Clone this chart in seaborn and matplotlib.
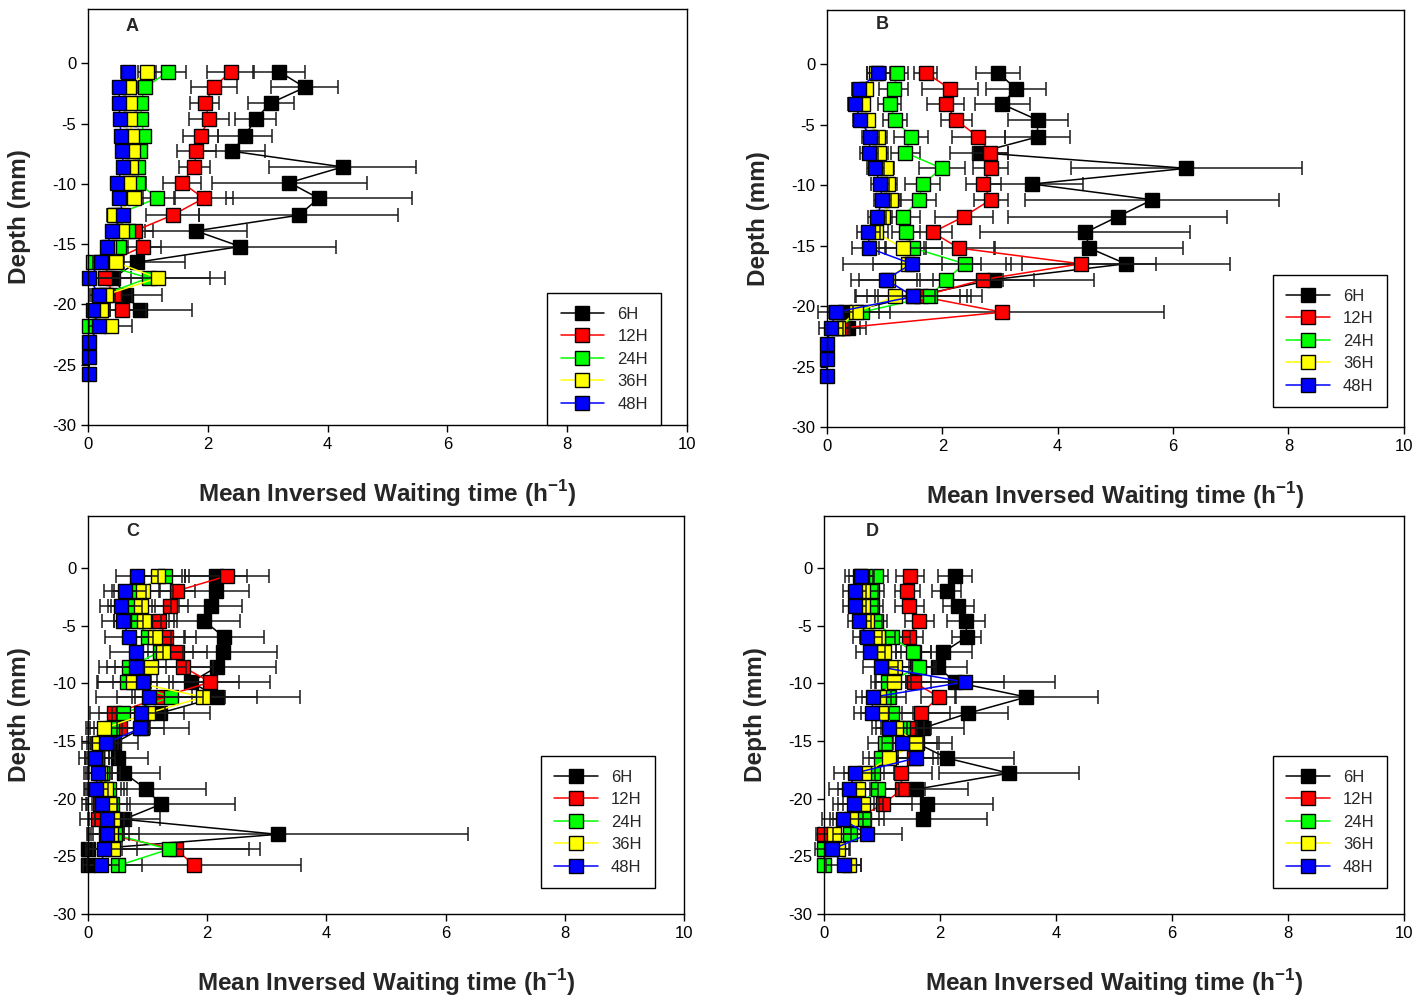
import matplotlib
matplotlib.use('Agg')
import matplotlib.pyplot as plt
import seaborn as sns

# depth levels (mm), same for every panel
depth = [-0.7, -2.0, -3.3, -4.6, -6.0, -7.3, -8.6, -9.9, -11.2, -12.6,
         -13.9, -15.2, -16.5, -17.8, -19.2, -20.5, -21.8, -23.1, -24.4, -25.8]
times = ['6H', '12H', '24H', '36H', '48H']
colors = ['#000000', '#ff0000', '#00ff00', '#ffff00', '#0000ff']

# panel A
a_6h = [3.19, 3.62, 3.05, 2.80, 2.62, 2.41, 4.25, 3.36, 3.85, 3.52, 1.80, 2.54, 0.82, 0.41, 0.63, 0.87]
a_12h = [2.38, 2.10, 1.95, 2.02, 1.88, 1.81, 1.77, 1.57, 1.93, 1.41, 0.78, 0.91, 0.35, 0.28, 0.44, 0.57]
a_24h = [1.34, 0.95, 0.88, 0.89, 0.93, 0.87, 0.84, 0.84, 1.15, 0.45, 0.67, 0.51, 0.09, 1.01, 0.25, 0.21, 0.02]
a_36h = [0.98, 0.68, 0.70, 0.70, 0.73, 0.75, 0.72, 0.68, 0.77, 0.44, 0.56, 0.35, 0.46, 1.16, 0.30, 0.22, 0.38]
a_48h = [0.67, 0.52, 0.52, 0.53, 0.55, 0.57, 0.59, 0.48, 0.52, 0.59, 0.40, 0.31, 0.21, 0.02, 0.18, 0.09, 0.18, 0.02, 0.02, 0.02]
a_6h_err = [0.43, 0.56, 0.38, 0.34, 0.45, 0.55, 1.23, 1.29, 1.55, 1.66, 0.85, 1.60, 0.80, 0.30, 0.60, 0.87]
a_12h_err = [0.39, 0.38, 0.24, 0.34, 0.29, 0.33, 0.26, 0.32, 0.49, 0.45, 0.30, 0.30, 0.25, 0.25, 0.30, 0.40]
a_24h_err = [0.30, 0.12, 0.10, 0.10, 0.12, 0.10, 0.10, 0.12, 0.30, 0.12, 0.12, 0.15, 0.10, 1.03, 0.15, 0.15, 0.10]
a_36h_err = [0.15, 0.12, 0.10, 0.10, 0.12, 0.10, 0.10, 0.12, 0.15, 0.12, 0.12, 0.12, 0.12, 1.13, 0.15, 0.15, 0.36]
a_48h_err = [0.12, 0.10, 0.10, 0.10, 0.10, 0.10, 0.10, 0.10, 0.10, 0.10, 0.10, 0.10, 0.12, 0.05, 0.12, 0.10, 0.10, 0.03, 0.03, 0.03]

# panel B
b_6h = [2.97, 3.27, 3.04, 3.65, 3.65, 2.63, 6.23, 3.56, 5.64, 5.04, 4.48, 4.55, 5.18, 2.89, 1.50, 0.32, 0.37]
b_12h = [1.71, 2.13, 2.06, 2.24, 2.62, 2.83, 2.84, 2.71, 2.84, 2.37, 1.83, 2.29, 4.40, 2.71, 1.63, 3.04, 0.27]
b_24h = [1.22, 1.16, 1.09, 1.18, 1.46, 1.36, 1.99, 1.66, 1.59, 1.32, 1.37, 1.50, 2.39, 2.06, 1.79, 0.60, 0.17]
b_36h = [0.85, 0.68, 0.62, 0.72, 0.89, 0.91, 1.02, 1.06, 1.11, 0.98, 0.85, 1.31, 1.40, 1.06, 1.18, 0.50, 0.20]
b_48h = [0.89, 0.55, 0.49, 0.58, 0.75, 0.73, 0.84, 0.92, 0.96, 0.87, 0.72, 0.73, 1.47, 1.02, 1.50, 0.15, 0.07, 0.0, 0.0, 0.0]
b_6h_err = [0.38, 0.52, 0.48, 0.52, 0.56, 0.50, 2.00, 0.87, 2.20, 1.90, 1.82, 1.63, 1.80, 1.74, 1.00, 0.30, 0.30]
b_12h_err = [0.20, 0.49, 0.32, 0.27, 0.46, 0.30, 0.30, 0.30, 0.29, 0.50, 0.34, 0.60, 1.30, 0.88, 0.80, 2.80, 0.30]
b_24h_err = [0.19, 0.25, 0.20, 0.20, 0.29, 0.25, 0.40, 0.30, 0.30, 0.30, 0.25, 0.50, 0.80, 1.00, 0.90, 0.50, 0.20]
b_36h_err = [0.15, 0.12, 0.12, 0.12, 0.15, 0.15, 0.15, 0.15, 0.15, 0.15, 0.20, 0.40, 0.60, 0.50, 0.70, 0.40, 0.20]
b_48h_err = [0.20, 0.12, 0.12, 0.12, 0.15, 0.15, 0.15, 0.15, 0.15, 0.15, 0.20, 0.30, 1.20, 0.60, 0.80, 0.30, 0.20, 0.03, 0.03, 0.03]

# panel C
c_6h = [2.15, 2.15, 2.06, 1.95, 2.28, 2.27, 2.16, 1.73, 2.17, 1.20, 0.90, 0.44, 0.50, 0.61, 0.98, 1.22, 0.60, 3.18, 0.0, 0.0]
c_12h = [2.33, 1.49, 1.38, 1.19, 1.31, 1.50, 1.60, 2.05, 1.24, 0.44, 0.54, 0.25, 0.15, 0.20, 0.25, 0.20, 0.16, 0.30, 1.48, 1.78]
c_24h = [1.29, 0.81, 0.73, 0.83, 1.00, 1.20, 0.68, 0.65, 1.39, 0.58, 0.40, 0.20, 0.15, 0.24, 0.35, 0.40, 0.42, 0.45, 1.35, 0.51]
c_36h = [1.18, 0.93, 0.89, 0.94, 1.12, 1.26, 1.05, 0.76, 1.93, 1.01, 0.27, 0.18, 0.15, 0.20, 0.30, 0.36, 0.42, 0.38, 0.42]
c_48h = [0.82, 0.62, 0.55, 0.58, 0.69, 0.81, 0.81, 0.92, 1.03, 0.89, 0.88, 0.30, 0.12, 0.17, 0.13, 0.24, 0.31, 0.31, 0.27, 0.22]
c_6h_err = [0.52, 0.55, 0.53, 0.60, 0.67, 0.90, 1.00, 0.80, 1.39, 0.85, 0.80, 0.40, 0.50, 0.60, 1.00, 1.25, 0.60, 3.20, 0.05, 0.05]
c_12h_err = [0.70, 0.30, 0.30, 0.30, 0.50, 0.50, 0.50, 1.00, 0.50, 0.40, 0.50, 0.20, 0.20, 0.20, 0.30, 0.30, 0.30, 0.30, 1.40, 1.79]
c_24h_err = [0.40, 0.40, 0.40, 0.40, 0.40, 0.40, 0.50, 0.50, 0.90, 0.40, 0.40, 0.30, 0.30, 0.30, 0.30, 0.30, 0.30, 0.40, 1.35, 0.40]
c_36h_err = [0.40, 0.50, 0.50, 0.50, 0.50, 0.50, 0.60, 0.60, 0.90, 0.60, 0.30, 0.20, 0.20, 0.20, 0.30, 0.30, 0.30, 0.30, 0.40]
c_48h_err = [0.35, 0.35, 0.35, 0.35, 0.40, 0.45, 0.50, 0.50, 0.90, 0.40, 0.40, 0.25, 0.15, 0.20, 0.20, 0.25, 0.30, 0.30, 0.30, 0.30]

# panel D
d_6h = [2.26, 2.12, 2.32, 2.45, 2.46, 2.06, 1.97, 2.26, 3.49, 2.49, 1.70, 1.60, 2.13, 3.19, 1.58, 1.77, 1.70]
d_12h = [1.49, 1.44, 1.47, 1.64, 1.46, 1.55, 1.60, 1.55, 1.98, 1.68, 1.45, 1.55, 1.56, 1.32, 1.35, 1.01, 0.55, 0.0]
d_24h = [0.90, 0.83, 0.82, 0.89, 1.18, 1.54, 1.64, 1.11, 1.12, 1.18, 1.37, 1.06, 0.98, 0.85, 0.94, 0.60, 0.69, 0.45, 0.0, 0.0]
d_36h = [0.62, 0.68, 0.68, 0.75, 0.93, 1.03, 1.22, 1.20, 0.95, 0.99, 1.25, 1.59, 1.13, 0.69, 0.59, 0.67, 0.46, 0.17, 0.25, 0.44]
d_48h = [0.64, 0.53, 0.53, 0.61, 0.75, 0.80, 0.98, 2.43, 0.85, 0.82, 1.13, 1.35, 1.58, 0.53, 0.44, 0.51, 0.32, 0.75, 0.14, 0.34]
d_6h_err = [0.29, 0.25, 0.27, 0.32, 0.25, 0.50, 0.50, 0.85, 1.23, 0.69, 0.72, 0.60, 1.15, 1.21, 0.90, 1.15, 1.12]
d_12h_err = [0.24, 0.22, 0.25, 0.25, 0.25, 0.30, 0.30, 0.30, 0.30, 0.50, 0.40, 0.40, 0.40, 0.55, 0.40, 0.50, 0.40, 0.10]
d_24h_err = [0.20, 0.20, 0.20, 0.20, 0.30, 0.30, 0.30, 0.30, 0.30, 0.35, 0.35, 0.30, 0.30, 0.35, 0.35, 0.35, 0.35, 0.30, 0.10, 0.10]
d_36h_err = [0.25, 0.25, 0.25, 0.25, 0.30, 0.30, 0.30, 0.30, 0.30, 0.35, 0.35, 0.40, 0.35, 0.35, 0.35, 0.35, 0.35, 0.30, 0.20, 0.20]
d_48h_err = [0.20, 0.20, 0.20, 0.20, 0.25, 0.25, 0.30, 1.55, 0.30, 0.30, 0.30, 0.35, 0.30, 0.35, 0.35, 0.35, 0.35, 0.60, 0.30, 0.30]

sns.set_style('ticks')
plt.rcParams['font.family'] = ['Liberation Sans', 'DejaVu Sans']
plt.rcParams['axes.unicode_minus'] = False
plt.rcParams['mathtext.fontset'] = 'custom'
plt.rcParams['mathtext.rm'] = 'Liberation Sans'
plt.rcParams['mathtext.bf'] = 'Liberation Sans:bold'

fig = plt.figure(figsize=(14.27, 9.97), dpi=100)

panels = [
    ('A', [0.0617, 0.5737, 0.4198, 0.4173],
     [a_6h, a_12h, a_24h, a_36h, a_48h], [a_6h_err, a_12h_err, a_24h_err, a_36h_err, a_48h_err],
     (0.957, 0.0), (0.0735, 0.957)),
    ('B', [0.5795, 0.5717, 0.4043, 0.4183],
     [b_6h, b_12h, b_24h, b_36h, b_48h], [b_6h_err, b_12h_err, b_24h_err, b_36h_err, b_48h_err],
     (0.9705, 0.048), (0.095, 0.964)),
    ('C', [0.0617, 0.0833, 0.4177, 0.3992],
     [c_6h, c_12h, c_24h, c_36h, c_48h], [c_6h_err, c_12h_err, c_24h_err, c_36h_err, c_48h_err],
     (0.951, 0.065), (0.0755, 0.962)),
    ('D', [0.5774, 0.0833, 0.4064, 0.3992],
     [d_6h, d_12h, d_24h, d_36h, d_48h], [d_6h_err, d_12h_err, d_24h_err, d_36h_err, d_48h_err],
     (0.9707, 0.065), (0.083, 0.962)),
]

for letter, rect, means, errs, leg_anchor, let_pos in panels:
    ax = fig.add_axes(rect)
    for name, col, m, e in zip(times, colors, means, errs):
        d = depth[:len(m)]
        ax.errorbar(m, d, xerr=e, fmt='none', ecolor='#1a1a1a', elinewidth=1.1,
                    capsize=5, capthick=1.1, clip_on=False)
        sns.lineplot(x=m, y=d, orient='y', sort=False, estimator=None, color=col,
                     marker='s', markersize=10, markeredgecolor='black',
                     markeredgewidth=1, linewidth=1.1, label=name, ax=ax, clip_on=False)

    ax.set_xlim(0, 10)
    ax.set_ylim(-30, 4.5)
    ax.set_xticks([0, 2, 4, 6, 8, 10])
    ax.set_yticks([0, -5, -10, -15, -20, -25, -30])
    ax.tick_params(direction='out', length=5, width=1, labelsize=12, colors='black')
    for sp in ax.spines.values():
        sp.set_color('black')
        sp.set_linewidth(1)
    ax.set_xlabel(r'Mean Inversed Waiting time (h$^{\mathbf{-1}}$)', fontsize=17.5,
                  fontweight='bold', labelpad=19)
    ax.set_ylabel('Depth (mm)', fontsize=17.5, fontweight='bold', labelpad=15)
    ax.text(let_pos[0], let_pos[1], letter, transform=ax.transAxes, fontsize=13,
            fontweight='bold', ha='center', va='center')
    ax.legend(loc='lower right', bbox_to_anchor=leg_anchor, borderaxespad=0,
              frameon=True, fancybox=False, edgecolor='black', framealpha=1,
              fontsize=12, handlelength=2.6, labelspacing=0.45, borderpad=0.8)

fig.savefig('out.png', dpi=100)
